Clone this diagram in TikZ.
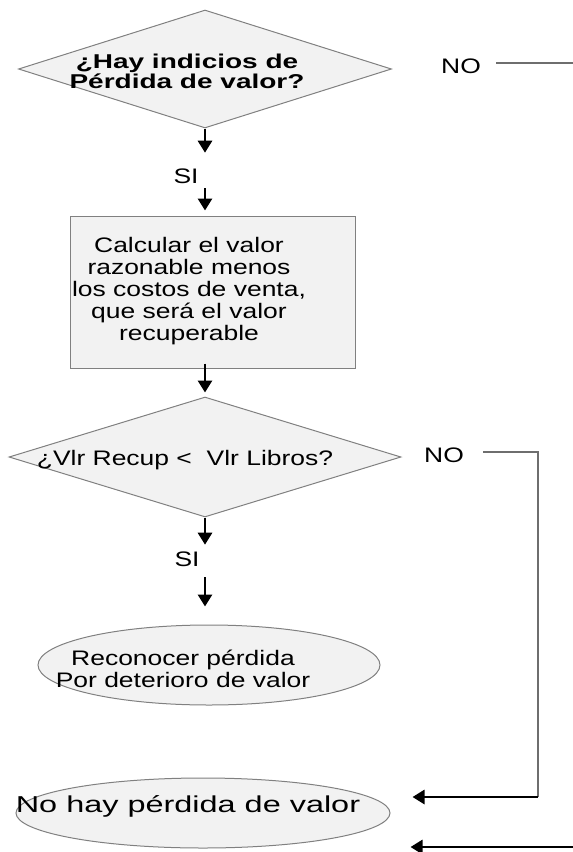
\documentclass[tikz,border=0pt]{standalone}
\usepackage{fontspec}
\setmainfont{Liberation Sans}
\newfontfamily\boxfont[FakeStretch=1.26]{Liberation Sans}
\newfontfamily\askfont[FakeStretch=1.4]{Liberation Sans}
\newfontfamily\widefont[FakeStretch=1.41]{Liberation Sans}
\usetikzlibrary{shapes.geometric,arrows.meta}

\definecolor{shapefill}{RGB}{242,242,242}
\definecolor{linegray}{RGB}{128,128,128}
\definecolor{linkgray}{RGB}{110,110,110}

\tikzset{every picture/.style={line width=0.75pt},
  decision/.style={shape=diamond,draw=linegray,fill=shapefill,inner sep=0pt,line width=1pt},
  process/.style={rectangle,draw=linegray,fill=shapefill,inner sep=0pt,line width=1pt},
  terminal/.style={ellipse,draw=linegray,fill=shapefill,inner sep=0pt,line width=1pt},
  plaintext/.style={inner sep=0pt,align=center,font=\boxfont\fontsize{21}{22}\selectfont},
  flow/.style={line width=2.8pt,-{Triangle[width=14pt,length=12pt]}},
  noline/.style={draw=linkgray,line width=1.2pt}}

\begin{document}
\begin{tikzpicture}[x=1pt,y=1pt,yscale=-1,xscale=1]
\useasboundingbox (0,0) rectangle (573,852);

%Shapes
\node [decision,minimum width=373,minimum height=118] (d1) at (205,69) {};
\node [process,minimum width=285,minimum height=152] (calc) at (212.5,292) {};
\node [decision,minimum width=392,minimum height=120] (d2) at (205,457) {};
\node [terminal,minimum width=342,minimum height=80] (e1) at (209,665) {};
\node [terminal,minimum width=374,minimum height=70] (e2) at (203,813) {};

% Text Node
\node [plaintext,font=\askfont\bfseries\fontsize{20}{20}\selectfont] (d1t) at (187,71) {¿Hay indicios de\\Pérdida de valor?};
\node [plaintext] (calct) at (189,291) {Calcular el valor\\razonable menos\\los costos de venta,\\que será el valor\\recuperable};
\node [plaintext] (d2t) at (185,460) {¿Vlr Recup <\ \ Vlr Libros?};
\node [plaintext] (e1t) at (183,669) {Reconocer pérdida\\Por deterioro de valor};
\node [plaintext,font=\widefont\fontsize{23}{26}\selectfont] (e2t) at (188,806) {No hay pérdida de valor};
\node [plaintext] (si1) at (186,176) {SI};
\node [plaintext] (si2) at (187,559) {SI};
\node [plaintext] (no1) at (461,66) {NO};
\node [plaintext] (no2) at (444,455) {NO};

%Arrows
\draw [flow,shorten >=15.5pt] (d1.south) -- (d1.south |- si1.north);
\draw [flow,shorten <=4.5pt,shorten >=5pt] (d1.south |- si1.south) -- (d1.south |- calc.north);
\draw [flow,shorten <=-5pt,shorten >=4pt] (d2.north |- calc.south) -- (d2.north);
\draw [flow,shorten >=6.5pt] (d2.south) -- (d2.south |- si2.north);
\draw [flow,shorten <=10.5pt,shorten >=18pt] (d2.south |- si2.south) -- (d2.south |- e1.north);

%NO branches
\coordinate (no1end) at (573,63);
\coordinate (c2) at (538,452);
\coordinate (c3) at (538,797);
\coordinate (b1) at (573,847);
\draw [noline,shorten <=15pt] (no1.east |- no1end) -- (no1end);
\draw [noline,shorten <=19pt] (no2.east |- c2) -- (c2) -- (c3);
\draw [flow,shorten >=22pt] (c3) -- (e2.east |- c3);
\draw [flow,shorten >=20pt] (b1) -- (e2.east |- b1);
\end{tikzpicture}
\end{document}
